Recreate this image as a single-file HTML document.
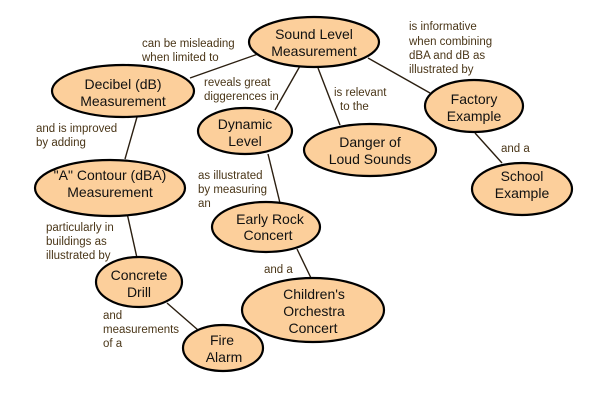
<!DOCTYPE html>
<html><head><style>
html,body{margin:0;padding:0;background:#fff;}
svg{display:block;}
.n{fill:#fccf9b;stroke:#000;stroke-width:2.2;}
.t{font-family:"Liberation Sans",sans-serif;font-size:14px;fill:#111;text-anchor:middle;}
.l{font-family:"Liberation Sans",sans-serif;font-size:11.5px;fill:#4a3618;}
line{stroke:#2a1e10;stroke-width:1.4;}
</style></head><body>
<svg width="601" height="401" viewBox="0 0 601 401">
<line x1="190" y1="78" x2="258" y2="54"/>
<line x1="300" y1="66" x2="275" y2="110"/>
<line x1="318" y1="68" x2="340" y2="125"/>
<line x1="368" y1="58" x2="430" y2="93"/>
<line x1="475" y1="133" x2="502" y2="163"/>
<line x1="137" y1="117" x2="125" y2="159"/>
<line x1="268" y1="154" x2="280" y2="203"/>
<line x1="127" y1="213" x2="137" y2="258"/>
<line x1="297" y1="249" x2="311" y2="278"/>
<line x1="167" y1="303" x2="198" y2="330"/>
<ellipse class="n" cx="314" cy="42" rx="65" ry="25"/>
<ellipse class="n" cx="123" cy="91" rx="71" ry="26"/>
<ellipse class="n" cx="245" cy="131" rx="47" ry="23"/>
<ellipse class="n" cx="370" cy="150" rx="66" ry="26"/>
<ellipse class="n" cx="474" cy="106" rx="49" ry="26"/>
<ellipse class="n" cx="522" cy="189" rx="50" ry="26"/>
<ellipse class="n" cx="110" cy="188" rx="75" ry="28"/>
<ellipse class="n" cx="266" cy="227" rx="54" ry="25"/>
<ellipse class="n" cx="313" cy="310" rx="71" ry="32"/>
<ellipse class="n" cx="139" cy="282" rx="43" ry="25"/>
<ellipse class="n" cx="223" cy="348" rx="40" ry="23"/>
<text class="t" x="314" y="39">Sound Level</text><text class="t" x="314" y="56">Measurement</text>
<text class="t" x="123" y="89">Decibel (dB)</text><text class="t" x="123" y="106">Measurement</text>
<text class="t" x="245" y="129">Dynamic</text><text class="t" x="245" y="146">Level</text>
<text class="t" x="370" y="147">Danger of</text><text class="t" x="370" y="164">Loud Sounds</text>
<text class="t" x="474" y="104">Factory</text><text class="t" x="474" y="121">Example</text>
<text class="t" x="522" y="181">School</text><text class="t" x="522" y="198">Example</text>
<text class="t" x="110" y="180">"A" Contour (dBA)</text><text class="t" x="110" y="197">Measurement</text>
<text class="t" x="270" y="224">Early Rock</text><text class="t" x="268" y="240">Concert</text>
<text class="t" x="314" y="299">Children's</text><text class="t" x="314" y="316">Orchestra</text><text class="t" x="313" y="333">Concert</text>
<text class="t" x="139" y="280">Concrete</text><text class="t" x="139" y="297">Drill</text>
<text class="t" x="222" y="345">Fire</text><text class="t" x="224" y="362">Alarm</text>
<text class="l" x="142" y="47">can be misleading</text><text class="l" x="142" y="61">when limited to</text>
<text class="l" x="204" y="86">reveals great</text><text class="l" x="204" y="100">diggerences in</text>
<text class="l" x="334" y="96">is relevant</text><text class="l" x="340" y="110">to the</text>
<text class="l" x="409" y="30">is informative</text><text class="l" x="409" y="45">when combining</text><text class="l" x="409" y="59">dBA and dB as</text><text class="l" x="409" y="73">illustrated by</text>
<text class="l" x="501" y="152">and a</text>
<text class="l" x="36" y="132">and is improved</text><text class="l" x="36" y="146">by adding</text>
<text class="l" x="198" y="179">as illustrated</text><text class="l" x="198" y="193">by measuring</text><text class="l" x="198" y="207">an</text>
<text class="l" x="46" y="231">particularly in</text><text class="l" x="46" y="245">buildings as</text><text class="l" x="46" y="259">illustrated by</text>
<text class="l" x="264" y="273">and a</text>
<text class="l" x="103" y="319">and</text><text class="l" x="103" y="333">measurements</text><text class="l" x="103" y="347">of a</text>
</svg>
</body></html>
